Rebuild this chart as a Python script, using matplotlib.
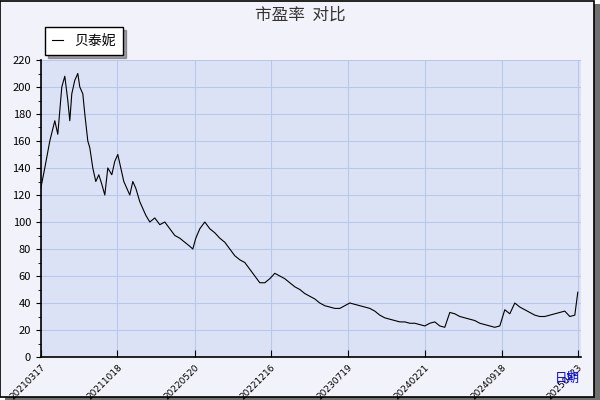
import matplotlib
matplotlib.use("Agg")
import matplotlib.pyplot as plt
from matplotlib.patches import Rectangle

plt.rcParams['font.family'] = ['Noto Sans CJK SC', 'DejaVu Sans']

tick_labels = ["20210317", "20211018", "20220520", "20221216", "20230719", "20240221", "20240918", "20250423"]
xs_px = [41,45,50,55,58,62,65,68,70,72,75,78,80,83,85,88,90,93,96,99,102,105,108,112,115,118,121,124,127,130,133,136,140,143,146,150,155,160,165,170,175,180,185,190,193,196,200,205,210,215,220,225,230,235,240,245,250,255,260,265,270,275,280,285,290,295,300,305,310,315,320,325,330,335,340,345,350,355,360,365,370,375,380,385,390,395,400,405,410,415,420,425,430,435,440,445,450,455,460,465,470,475,480,485,490,495,500,505,510,515,520,525,530,535,540,545,550,555,560,565,570,575,578]
pe = [125,140,160,175,165,200,208,190,175,195,205,210,200,195,180,160,155,140,130,135,128,120,140,135,145,150,140,130,125,120,130,125,115,110,105,100,103,98,100,95,90,88,85,82,80,88,95,100,95,92,88,85,80,75,72,70,65,60,55,55,58,62,60,58,55,52,50,47,45,43,40,38,37,36,36,38,40,39,38,37,36,34,31,29,28,27,26,26,25,25,24,23,25,26,23,22,33,32,30,29,28,27,25,24,23,22,23,35,32,40,37,35,33,31,30,30,31,32,33,34,30,31,48]

fig = plt.figure(figsize=(6, 4), dpi=100)
fig.patch.set_facecolor('white')
fig.patches.append(Rectangle((0.008, 0.0), 0.992, 0.99, transform=fig.transFigure, facecolor='#707070', zorder=-2))
fig.patches.append(Rectangle((0.0, 0.008), 0.99, 0.99, transform=fig.transFigure, facecolor='#f2f2fa', edgecolor='black', lw=1.2, zorder=-1))

ax = fig.add_axes([0.068, 0.1075, 0.9, 0.7425])
ax.set_facecolor('#dce2f6')
ax.plot(xs_px, pe, color='black', lw=0.8, label='贝泰妮')
ax.set_xlim(41, 581)
ax.set_ylim(0, 220)
tick_px = [41, 117.6, 195, 271, 348, 425, 502, 578]
ax.set_xticks(tick_px)
ax.set_xticklabels(tick_labels, rotation=45, ha='right', va='top', rotation_mode='anchor', fontsize=6.5, family='DejaVu Sans')
ax.set_yticks(range(0, 221, 20))
ax.set_yticks(range(0, 221, 10), minor=True)
ax.tick_params(axis='y', labelsize=8)
ax.tick_params(axis='x', direction='in', length=5, pad=4)
ax.grid(True, color='#b8c8e8', lw=0.8)
for s in ['top', 'right']:
    ax.spines[s].set_visible(False)
ax.spines['left'].set_linewidth(1.2)
ax.spines['bottom'].set_linewidth(1.2)
leg = ax.legend(loc='upper left', bbox_to_anchor=(-0.005, 1.135), fancybox=False, edgecolor='black',
                framealpha=1, fontsize=10, handlelength=0.8, shadow=True, borderpad=0.5)
fig.text(0.5, 0.962, '市盈率  对比', ha='center', va='center', fontsize=12, color='#333333')
fig.text(0.945, 0.055, '日期', ha='center', va='center', fontsize=9, color='blue')
fig.savefig('out.png', dpi=100)
